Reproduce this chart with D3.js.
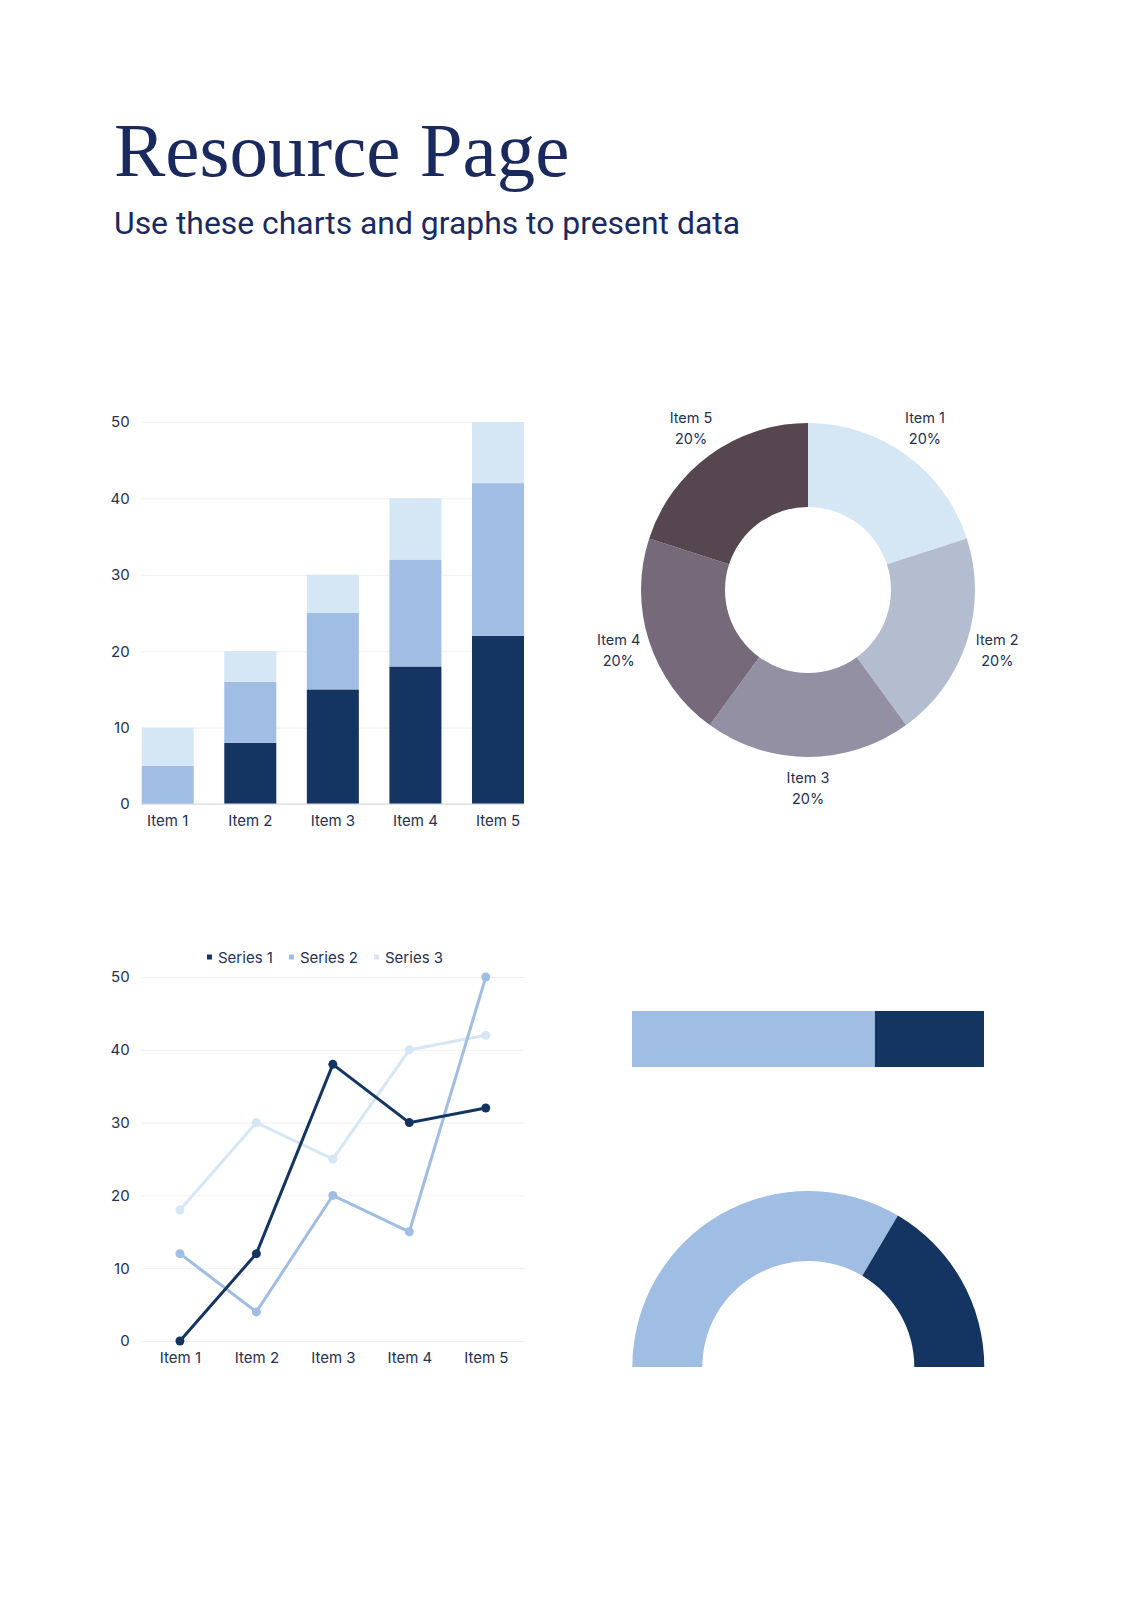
<!DOCTYPE html>
<html>
<head>
<meta charset="utf-8">
<script src="https://cdn.jsdelivr.net/npm/d3@7"></script>
<style>
  body { margin: 0; background: #fff; }
  svg text { font-family: Inter, "Noto Sans", sans-serif; fill: #26304f; }
</style>
</head>
<body>
<div id="page"></div>
<script>
// chart values
var items = ["Item 1", "Item 2", "Item 3", "Item 4", "Item 5"];
var barSeries1 = [0, 8, 15, 18, 22];
var barSeries2 = [5, 8, 10, 14, 20];
var barSeries3 = [5, 4, 5, 8, 8];
var yTicks = [0, 10, 20, 30, 40, 50];

var donutValues = [20, 20, 20, 20, 20];
var donutLabels = ["20%", "20%", "20%", "20%", "20%"];

var seriesNames = ["Series 1", "Series 2", "Series 3"];
var lineSeries1 = [0, 12, 38, 30, 32];
var lineSeries2 = [12, 4, 20, 15, 50];
var lineSeries3 = [18, 30, 25, 40, 42];

var progressValues = [69, 31];
var gaugeValues = [67, 33];

// colours
var navy = "#1b2a5e";
var blues = ["#143562", "#a0bde3", "#d5e7f5"];
var donutColors = ["#d5e7f5", "#b4bdd0", "#9390a3", "#766a7a", "#55464f"];

var svg = d3.select("#page").append("svg")
    .attr("width", 1131)
    .attr("height", 1600);

// heading
svg.append("text")
    .attr("x", 114)
    .attr("y", 176)
    .style("font-family", "'Liberation Serif', 'Times New Roman', serif")
    .style("font-size", "77px")
    .style("fill", navy)
    .text("Resource Page");
svg.append("text")
    .attr("x", 114)
    .attr("y", 234)
    .attr("textLength", 626)
    .attr("lengthAdjust", "spacingAndGlyphs")
    .style("font-family", "Roboto, sans-serif")
    .style("font-size", "31px")
    .style("fill", navy)
    .text("Use these charts and graphs to present data");

function styleAxis(g) {
    g.select(".domain").remove();
    g.selectAll("text").style("font-size", "15px").style("fill", "#26304f");
}

// ---- stacked bar chart ----
var bx = d3.scaleBand().domain(items).range([141.7, 524]).paddingInner(0.37).paddingOuter(0);
var by = d3.scaleLinear().domain([0, 50]).range([804, 422]);

svg.append("g")
    .attr("transform", "translate(141.7,0)")
    .call(d3.axisLeft(by).tickValues(yTicks).tickSize(-(524 - 141.7)).tickFormat(""))
    .call(function(g) {
        g.select(".domain").remove();
        g.selectAll("line").attr("stroke", "#efefef");
    });

var barRows = items.map(function(d, i) {
    return {item: d, s1: barSeries1[i], s2: barSeries2[i], s3: barSeries3[i]};
});
var stacked = d3.stack().keys(["s1", "s2", "s3"])(barRows);

svg.append("g").selectAll("g")
    .data(stacked)
    .enter().append("g")
    .attr("fill", function(d, i) { return blues[i]; })
    .selectAll("rect")
    .data(function(d) { return d; })
    .enter().append("rect")
    .attr("x", function(d) { return bx(d.data.item); })
    .attr("y", function(d) { return by(d[1]); })
    .attr("width", bx.bandwidth())
    .attr("height", function(d) { return by(d[0]) - by(d[1]); });

svg.append("line")
    .attr("x1", 141.7).attr("x2", 524)
    .attr("y1", by(0)).attr("y2", by(0))
    .attr("stroke", "#d3d7de");

svg.append("g")
    .attr("transform", "translate(141.7,0)")
    .call(d3.axisLeft(by).tickValues(yTicks).tickSize(0).tickPadding(12))
    .call(styleAxis);
svg.append("g")
    .attr("transform", "translate(0," + by(0) + ")")
    .call(d3.axisBottom(bx).tickSize(0).tickPadding(11))
    .call(styleAxis);

// ---- donut ----
var donut = svg.append("g").attr("transform", "translate(808,590)");
var pie = d3.pie().sort(null)(donutValues);
var donutArc = d3.arc().innerRadius(83).outerRadius(167);
var labelArc = d3.arc().innerRadius(199).outerRadius(199);

donut.selectAll("path")
    .data(pie)
    .enter().append("path")
    .attr("d", donutArc)
    .attr("fill", function(d, i) { return donutColors[i]; });

var dl = donut.selectAll("text.lbl")
    .data(pie)
    .enter().append("text")
    .attr("class", "lbl")
    .attr("text-anchor", "middle")
    .style("font-size", "14.5px")
    .attr("transform", function(d) { return "translate(" + labelArc.centroid(d) + ")"; });
dl.append("tspan").attr("x", 0).attr("y", -6.5).text(function(d, i) { return items[i]; });
dl.append("tspan").attr("x", 0).attr("y", 15).text(function(d, i) { return donutLabels[i]; });

// ---- line chart ----
var lx = d3.scalePoint().domain(items).range([141.7, 524]).padding(0.5);
var ly = d3.scaleLinear().domain([0, 50]).range([1341, 977]);
var lineData = [lineSeries1, lineSeries2, lineSeries3];

svg.append("g")
    .attr("transform", "translate(141.7,0)")
    .call(d3.axisLeft(ly).tickValues(yTicks).tickSize(-(524 - 141.7)).tickFormat(""))
    .call(function(g) {
        g.select(".domain").remove();
        g.selectAll("line").attr("stroke", "#efefef");
    });

var line = d3.line()
    .x(function(d, i) { return lx(items[i]); })
    .y(function(d) { return ly(d); });

// draw lightest first so the dark line sits on top
[2, 1, 0].forEach(function(k) {
    svg.append("path")
        .datum(lineData[k])
        .attr("d", line)
        .attr("fill", "none")
        .attr("stroke", blues[k])
        .attr("stroke-width", 3);
    svg.append("g").selectAll("circle")
        .data(lineData[k])
        .enter().append("circle")
        .attr("cx", function(d, i) { return lx(items[i]); })
        .attr("cy", function(d) { return ly(d); })
        .attr("r", 4.5)
        .attr("fill", blues[k]);
});

svg.append("g")
    .attr("transform", "translate(141.7,0)")
    .call(d3.axisLeft(ly).tickValues(yTicks).tickSize(0).tickPadding(12))
    .call(styleAxis);
svg.append("g")
    .attr("transform", "translate(0," + ly(0) + ")")
    .call(d3.axisBottom(lx).tickSize(0).tickPadding(11))
    .call(styleAxis);

// legend
var legendX = [207, 289, 374];
var legend = svg.append("g").selectAll("g")
    .data(seriesNames)
    .enter().append("g")
    .attr("transform", function(d, i) { return "translate(" + legendX[i] + ",957)"; });
legend.append("rect")
    .attr("x", 0).attr("y", -2.5)
    .attr("width", 5).attr("height", 5)
    .attr("fill", function(d, i) { return blues[i]; });
legend.append("text")
    .attr("x", 11).attr("y", 5.5)
    .style("font-size", "15px")
    .text(function(d) { return d; });

// ---- progress bar ----
var px = d3.scaleLinear().domain([0, d3.sum(progressValues)]).range([632, 984]);
var progStart = [0, progressValues[0]];
svg.append("g").selectAll("rect")
    .data(progressValues)
    .enter().append("rect")
    .attr("x", function(d, i) { return px(progStart[i]); })
    .attr("y", 1011)
    .attr("width", function(d, i) { return px(progStart[i] + d) - px(progStart[i]); })
    .attr("height", 56)
    .attr("fill", function(d, i) { return blues[1 - i]; });

// ---- half donut gauge ----
var gauge = svg.append("g").attr("transform", "translate(808.3,1367)");
var gaugePie = d3.pie().sort(null).startAngle(-Math.PI / 2).endAngle(Math.PI / 2)(gaugeValues);
gauge.selectAll("path")
    .data(gaugePie)
    .enter().append("path")
    .attr("d", d3.arc().innerRadius(106).outerRadius(176))
    .attr("fill", function(d, i) { return blues[1 - i]; });
</script>
</body>
</html>
